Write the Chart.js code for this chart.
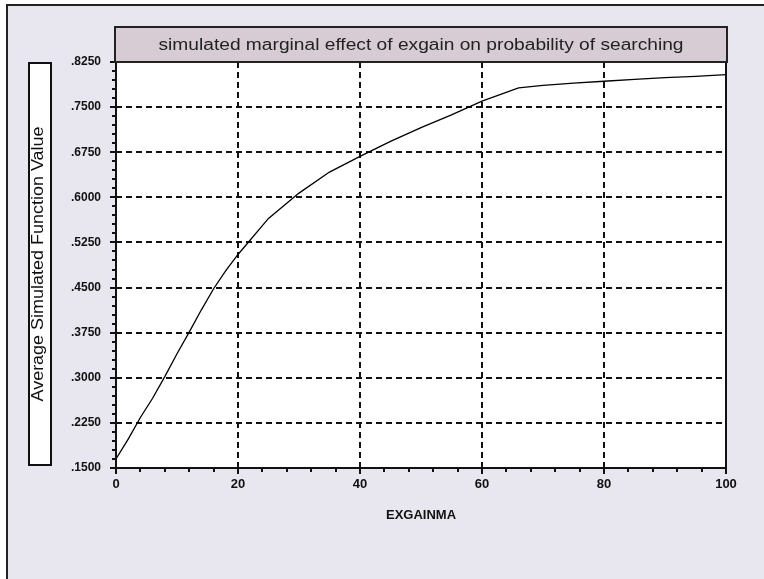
<!DOCTYPE html>
<html><head><meta charset="utf-8">
<script src="https://cdn.jsdelivr.net/npm/chart.js@4.4.1/dist/chart.umd.min.js"></script>
<style>html,body{margin:0;padding:0;background:#fff;}canvas{display:block;}</style>
</head><body>
<canvas id="c" width="764" height="579"></canvas>
<script>
const chartTitle = 'simulated marginal effect of exgain on probability of searching';
const xAxisTitle = 'EXGAINMA';
const yAxisTitle = 'Average Simulated Function Value';

const exgainValues    = [0, 2, 4, 6, 8, 10, 12, 14, 16, 18, 20, 25, 30, 35, 40, 45, 50, 55, 60, 66, 70, 75, 80, 85, 90, 95, 100];
const simulatedValues = [0.165, 0.198, 0.234, 0.266, 0.302, 0.340, 0.376, 0.413, 0.448, 0.478, 0.505, 0.565, 0.607, 0.642, 0.668, 0.693, 0.716, 0.737, 0.760, 0.782, 0.786, 0.790, 0.793, 0.796, 0.799, 0.801, 0.804];

const xTickValues = [0, 20, 40, 60, 80, 100];
const yTickValues = [0.150, 0.225, 0.300, 0.375, 0.450, 0.525, 0.600, 0.675, 0.750, 0.825];
const xMinorStep = 4;
const yMinorStep = 0.015;

const FONT = '"Liberation Sans", Arial, sans-serif';

const decorPlugin = {
  id: 'decor',
  beforeDraw(chart) {
    const ctx = chart.ctx, a = chart.chartArea;
    ctx.save();
    ctx.fillStyle = '#ffffff';
    ctx.fillRect(0, 0, chart.width, chart.height);
    ctx.fillStyle = '#e8e6ee';
    ctx.fillRect(6, 5, chart.width - 6, chart.height - 5);
    ctx.fillStyle = '#222';
    ctx.fillRect(6, 4, chart.width - 6, 2);
    ctx.fillRect(6, 4, 2, chart.height - 4);
    ctx.fillStyle = '#ffffff';
    ctx.fillRect(a.left, a.top, a.right - a.left, a.bottom - a.top);
    ctx.restore();
  },
  afterDraw(chart) {
    const ctx = chart.ctx, a = chart.chartArea;
    const xs = chart.scales.x, ys = chart.scales.y;
    ctx.save();
    // minor ticks
    ctx.strokeStyle = '#111';
    ctx.lineWidth = 2;
    ctx.beginPath();
    for (let v = xs.min; v <= xs.max + 1e-9; v += xMinorStep) {
      if (xTickValues.some(t => Math.abs(t - v) < 1e-6)) continue;
      const px = Math.round(xs.getPixelForValue(v));
      ctx.moveTo(px, a.bottom); ctx.lineTo(px, a.bottom + 4);
    }
    for (let v = ys.min; v <= ys.max + 1e-9; v += yMinorStep) {
      if (yTickValues.some(t => Math.abs(t - v) < 1e-6)) continue;
      const py = Math.round(ys.getPixelForValue(v));
      ctx.moveTo(a.left, py); ctx.lineTo(a.left - 4, py);
    }
    ctx.stroke();
    // plot frame
    ctx.strokeStyle = '#111';
    ctx.lineWidth = 2;
    ctx.strokeRect(a.left, a.top, a.right - a.left, a.bottom - a.top);
    // title box
    const tTop = 27;
    ctx.fillStyle = '#d8ccd4';
    ctx.fillRect(a.left - 1, tTop, a.right - a.left + 2, a.top - tTop);
    ctx.strokeStyle = '#222';
    ctx.strokeRect(a.left - 1, tTop, a.right - a.left + 2, a.top - tTop);
    ctx.fillStyle = '#222';
    ctx.font = '16px ' + FONT;
    let w = ctx.measureText(chartTitle).width;
    ctx.save();
    ctx.translate((a.left + a.right) / 2, (tTop + a.top) / 2 + 1);
    ctx.scale(525 / w, 1.08);
    ctx.textAlign = 'center';
    ctx.textBaseline = 'middle';
    ctx.fillText(chartTitle, 0, 0);
    ctx.restore();
    // y title box
    const bx = 29, bw = 22, by = 63, bh = 402;
    ctx.fillStyle = '#ffffff';
    ctx.fillRect(bx, by, bw, bh);
    ctx.strokeStyle = '#111';
    ctx.strokeRect(bx, by, bw, bh);
    ctx.fillStyle = '#111';
    ctx.font = '16px ' + FONT;
    w = ctx.measureText(yAxisTitle).width;
    ctx.translate(42.5, by + bh / 2);
    ctx.rotate(-Math.PI / 2);
    ctx.scale(275 / w, 1);
    ctx.textAlign = 'center';
    ctx.textBaseline = 'alphabetic';
    ctx.fillText(yAxisTitle, 0, 0);
    ctx.restore();
  }
};

const points = exgainValues.map((x, i) => ({ x: x, y: simulatedValues[i] }));

const gridDash = [6, 4];

new Chart(document.getElementById('c'), {
  type: 'line',
  data: {
    datasets: [{
      data: points,
      borderColor: '#000',
      borderWidth: 1.3,
      pointRadius: 0,
      fill: false,
      tension: 0
    }]
  },
  options: {
    responsive: false,
    animation: false,
    layout: { padding: { left: 0, top: 62, right: 38, bottom: 0 } },
    plugins: { legend: { display: false }, tooltip: { enabled: false }, title: { display: false } },
    scales: {
      x: {
        type: 'linear',
        min: 0, max: 100,
        afterBuildTicks: s => { s.ticks = xTickValues.map(v => ({ value: v })); },
        afterFit: s => { s.height = 111; },
        border: { display: false, dash: gridDash },
        grid: {
          color: c => (c.tick && (c.tick.value === 0 || c.tick.value === 100)) ? 'rgba(0,0,0,0)' : '#111',
          lineWidth: 2,
          borderDash: gridDash,
          tickBorderDash: [],
          tickColor: '#111',
          tickWidth: 2,
          tickLength: 6,
          drawTicks: true
        },
        ticks: {
          color: '#111',
          font: { family: FONT, size: 13, weight: 'bold' },
          padding: 3,
          maxRotation: 0,
          callback: v => String(v)
        },
        title: {
          display: true,
          text: xAxisTitle,
          color: '#111',
          font: { family: FONT, size: 13, weight: 'bold' },
          padding: { top: 0, bottom: 56 }
        }
      },
      y: {
        type: 'linear',
        min: 0.15, max: 0.825,
        afterBuildTicks: s => { s.ticks = yTickValues.map(v => ({ value: v })); },
        afterFit: s => { s.width = 116; },
        border: { display: false, dash: gridDash },
        grid: {
          color: c => (c.tick && (Math.abs(c.tick.value - 0.15) < 1e-6 || Math.abs(c.tick.value - 0.825) < 1e-6)) ? 'rgba(0,0,0,0)' : '#111',
          lineWidth: 2,
          borderDash: gridDash,
          tickBorderDash: [],
          tickColor: '#111',
          tickWidth: 2,
          tickLength: 6,
          drawTicks: true
        },
        ticks: {
          color: '#111',
          font: { family: FONT, size: 12, weight: 'bold' },
          padding: 9,
          callback: v => v.toFixed(4).replace(/^0/, '')
        }
      }
    }
  },
  plugins: [decorPlugin]
});
</script>
</body></html>
